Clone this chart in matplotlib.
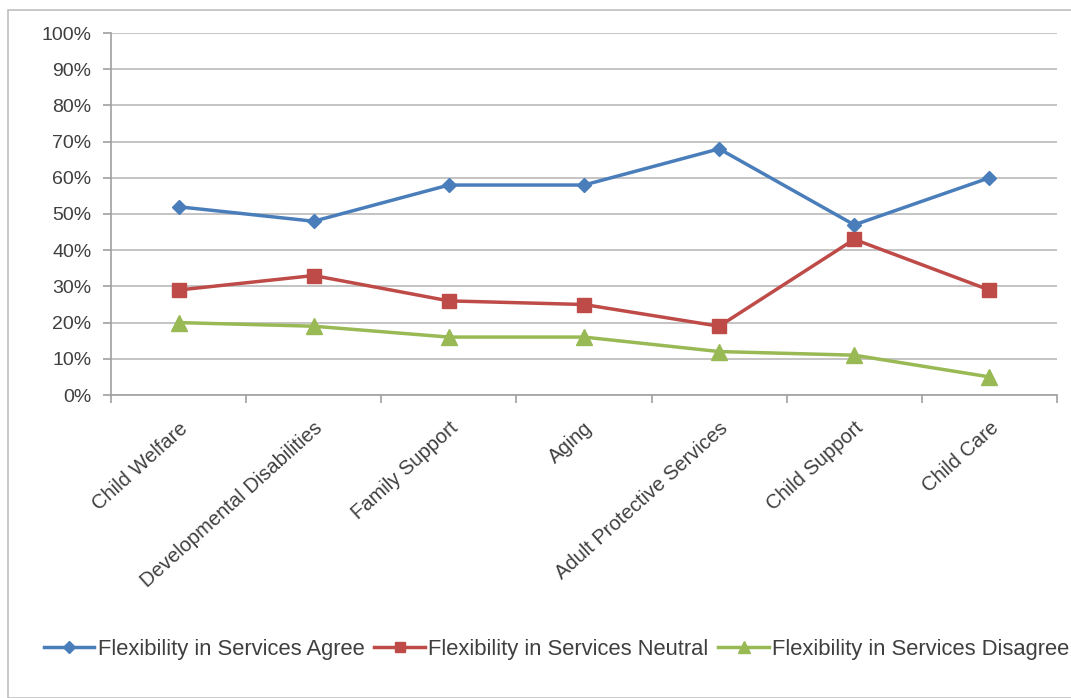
import matplotlib.pyplot as plt
from matplotlib.patches import Rectangle
from matplotlib.ticker import FixedLocator, PercentFormatter
from matplotlib.transforms import ScaledTranslation

categories = ["Child Welfare", "Developmental Disabilities", "Family Support", "Aging",
              "Adult Protective Services", "Child Support", "Child Care"]
agree = [52, 48, 58, 58, 68, 47, 60]
neutral = [29, 33, 26, 25, 19, 43, 29]
disagree = [20, 19, 16, 16, 12, 11, 5]
series_names = ["Flexibility in Services Agree", "Flexibility in Services Neutral",
                "Flexibility in Services Disagree"]

plt.rcParams['font.family'] = ['Liberation Sans', 'DejaVu Sans']
text_color = "#3F3F3F"

fig = plt.figure(figsize=(10.71, 6.98), dpi=100)
ax = fig.add_axes([111 / 1071, 1 - 395 / 698, 946 / 1071, 362 / 698])

# chart frame
fig.patches.append(Rectangle((8 / 1071, 0.0), 1.0, 1 - 10 / 698, transform=fig.transFigure,
                             fill=False, edgecolor="#BFBFBF", linewidth=1.2))

xs = list(range(len(categories)))
ax.plot(xs, agree, color="#4A7EBB", lw=2.5, marker="D", ms=7.5, label=series_names[0])
ax.plot(xs, neutral, color="#BE4B48", lw=2.5, marker="s", ms=10.5, label=series_names[1])
ax.plot(xs, disagree, color="#98B954", lw=2.5, marker="^", ms=11, label=series_names[2])

ax.set_xlim(-0.5, len(categories) - 0.5)
ax.set_ylim(0, 100)
ax.yaxis.set_major_locator(FixedLocator(range(0, 101, 10)))
ax.yaxis.set_major_formatter(PercentFormatter(decimals=0))
ax.grid(axis="y", color="#BFBFBF", lw=1.3)
ax.set_axisbelow(True)

ax.set_xticks(xs)
ax.set_xticklabels(categories, rotation=42, ha="right", rotation_mode="anchor", fontsize=14.5,
                   color=text_color)
shift = ScaledTranslation(5 / 100, 0, fig.dpi_scale_trans)
for lbl in ax.get_xticklabels():
    lbl.set_transform(lbl.get_transform() + shift)
ax.set_xticks([x + 0.5 for x in xs[:-1]] + [-0.5, len(categories) - 0.5], minor=True)
ax.tick_params(axis="x", which="major", length=0, pad=17)
ax.tick_params(axis="x", which="minor", length=6, color="#A0A0A0", width=1.2)
ax.tick_params(axis="y", length=6, color="#A0A0A0", width=1.2, labelsize=14,
               labelcolor=text_color, pad=8)

for side in ("top", "right"):
    ax.spines[side].set_visible(False)
for side in ("left", "bottom"):
    ax.spines[side].set_color("#A0A0A0")
    ax.spines[side].set_linewidth(1.2)

leg = fig.legend(loc="center left", bbox_to_anchor=(44 / 1071, 1 - 649 / 698), ncol=3,
                 frameon=False, fontsize=15.8, handlelength=2.3, handletextpad=0.15,
                 columnspacing=0.45, markerscale=0.75, borderaxespad=0, borderpad=0)
for t in leg.get_texts():
    t.set_color(text_color)

fig.savefig("out.png", dpi=100)
